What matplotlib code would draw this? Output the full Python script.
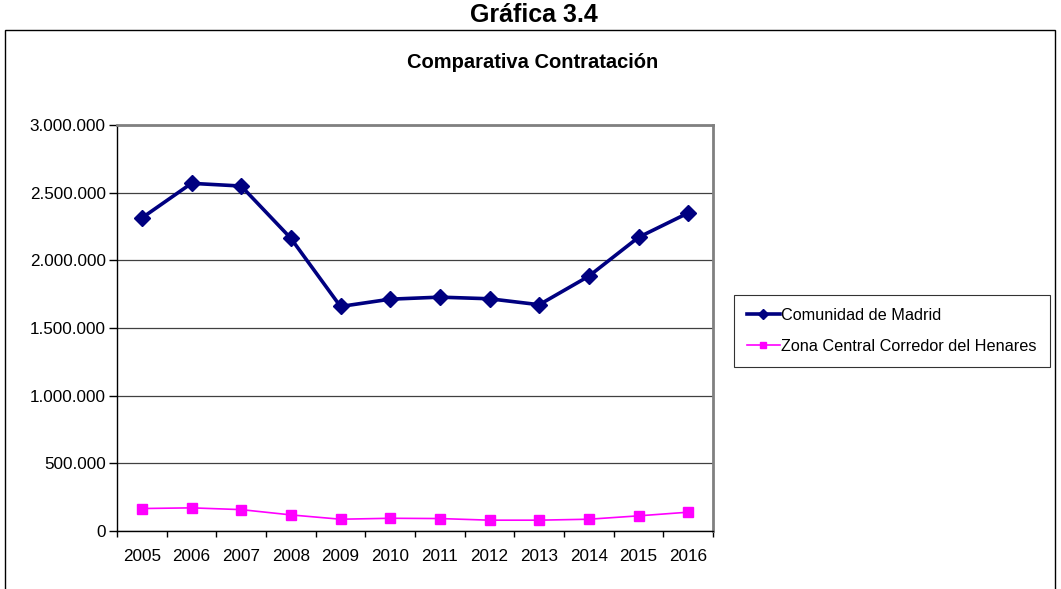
import matplotlib
matplotlib.use("Agg")
import matplotlib.pyplot as plt
from matplotlib.patches import Rectangle
from matplotlib.ticker import FuncFormatter, FixedLocator

# ── Data ──────────────────────────────────────────
years = ["2005", "2006", "2007", "2008", "2009", "2010",
         "2011", "2012", "2013", "2014", "2015", "2016"]
madrid = [2313000, 2569000, 2549000, 2163000, 1659000, 1713000,
          1728000, 1716000, 1672000, 1883000, 2170000, 2350000]
henares = [166000, 171000, 158000, 119000, 87000, 94000,
           92000, 80000, 80000, 87000, 112000, 139000]

plt.rcParams["font.family"] = ["Liberation Sans", "DejaVu Sans"]

fig = plt.figure(figsize=(10.61, 5.89), dpi=100)
ax = fig.add_axes([117 / 1061, 1 - 531 / 589, 596 / 1061, 406 / 589])

x = list(range(len(years)))
ax.plot(x, madrid, color="#000080", lw=2.6, marker="D", ms=8.5,
        label="Comunidad de Madrid", zorder=3)
ax.plot(x, henares, color="#FF00FF", lw=1.2, marker="s", ms=7.5,
        label="Zona Central Corredor del Henares", zorder=3)

# ── Axes styling ──────────────────────────────────
ax.set_xlim(-0.5, len(years) - 0.5)
ax.set_ylim(0, 3000000)
ax.set_yticks(range(0, 3000001, 500000))
ax.yaxis.set_major_formatter(FuncFormatter(lambda v, p: f"{int(v):,}".replace(",", ".")))
ax.set_xticks(x)
ax.set_xticklabels(years)
ax.xaxis.set_minor_locator(FixedLocator([i - 0.5 for i in range(len(years) + 1)]))
ax.tick_params(axis="x", which="major", length=0, pad=13, labelsize=12.3)
ax.tick_params(axis="x", which="minor", length=4.5, width=1, direction="out")
ax.tick_params(axis="y", length=6, width=1, direction="out", labelsize=12.3, pad=2)
ax.grid(axis="y", color="#404040", lw=0.9)
ax.set_axisbelow(True)
for s in ["top", "right"]:
    ax.spines[s].set_color("#808080")
    ax.spines[s].set_linewidth(2)
for s in ["left", "bottom"]:
    ax.spines[s].set_color("black")
    ax.spines[s].set_linewidth(1)

# ── Titles & frame ────────────────────────────────
fig.text(534 / 1061, 1 - 15 / 589, "Gráfica 3.4", ha="center", va="center",
         fontsize=18, fontweight="bold")
fig.text(533 / 1061, 1 - 62 / 589, "Comparativa Contratación", ha="center",
         va="center", fontsize=14.5, fontweight="bold")
fig.patches.append(Rectangle((5 / 1061, -0.05), 1050 / 1061, 0.05 + 1 - 30 / 589,
                             transform=fig.transFigure, fill=False,
                             edgecolor="black", lw=1))

leg = ax.legend(loc="center left", bbox_to_anchor=(726 / 1061, 1 - 331 / 589),
                bbox_transform=fig.transFigure, fancybox=False, frameon=True,
                edgecolor="black", fontsize=11.7, handlelength=2.0,
                handletextpad=0.1, borderpad=0.8, labelspacing=1.0,
                markerscale=0.6)
leg.get_frame().set_linewidth(0.8)

fig.savefig("out.png", dpi=100)
